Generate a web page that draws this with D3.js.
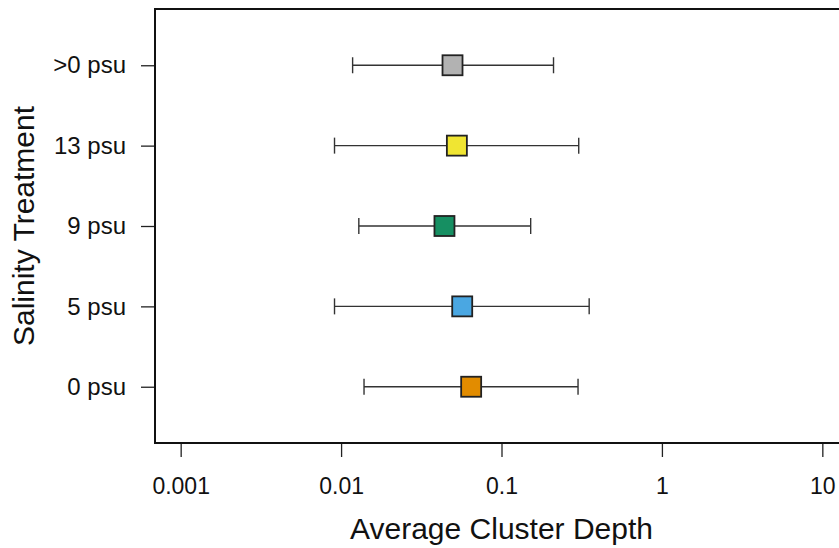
<!DOCTYPE html>
<html>
<head>
<meta charset="utf-8">
<script src="https://cdn.jsdelivr.net/npm/d3@7"></script>
<style>
  body { margin: 0; background: #fff; }
  svg { display: block; font-family: "Liberation Sans", Arial, sans-serif; }
</style>
</head>
<body>
<div id="chart"></div>
<script>
// salinity groups, bottom to top
var treatments = ["0 psu", "5 psu", "9 psu", "13 psu", ">0 psu"];
var meanDepth  = [0.0647, 0.0569, 0.0441, 0.0527, 0.0495];
var lowerDepth = [0.0139, 0.0091, 0.0129, 0.0091, 0.0118];
var upperDepth = [0.300, 0.352, 0.152, 0.303, 0.211];
var fills      = ["#e28c00", "#4aa7e2", "#168f62", "#f0e532", "#b2b2b2"];
var xTicks     = [0.001, 0.01, 0.1, 1, 10];
var xTickLabels = ["0.001", "0.01", "0.1", "1", "10"];

var width = 839, height = 548;
var box = { left: 155, right: 848, top: 9, bottom: 443 };

var svg = d3.select("#chart")
  .append("svg")
  .attr("width", width)
  .attr("height", height);

// log x with R-style 4% padding around 0.001..10
var x = d3.scaleLog()
  .domain([Math.pow(10, -3.16), Math.pow(10, 1.16)])
  .range([box.left, box.right]);

var y = d3.scaleLinear()
  .domain([0.3, 5.7])
  .range([box.bottom, box.top]);

var data = treatments.map(function (t, i) {
  return { name: t, pos: i + 1, mean: meanDepth[i], lo: lowerDepth[i], hi: upperDepth[i], fill: fills[i] };
});

// x axis
var xAxis = d3.axisBottom(x)
  .tickValues(xTicks)
  .tickFormat(function (d, i) { return xTickLabels[i]; })
  .tickSize(14)
  .tickPadding(21);

var gx = svg.append("g")
  .attr("transform", "translate(0," + box.bottom + ")")
  .call(xAxis);
gx.select(".domain").remove();
gx.selectAll(".tick line").attr("stroke", "#222").attr("stroke-width", 1.3);
gx.selectAll(".tick text")
  .attr("font-size", "23px")
  .attr("fill", "#111")
  .attr("font-family", "Liberation Sans, Arial, sans-serif");

// y axis
var yAxis = d3.axisLeft(y)
  .tickValues(data.map(function (d) { return d.pos; }))
  .tickFormat(function (d) { return treatments[d - 1]; })
  .tickSize(14)
  .tickPadding(15);

var gy = svg.append("g")
  .attr("transform", "translate(" + box.left + ",0)")
  .call(yAxis);
gy.select(".domain").remove();
gy.selectAll(".tick line").attr("stroke", "#222").attr("stroke-width", 1.3);
gy.selectAll(".tick text")
  .attr("font-size", "24px")
  .attr("fill", "#111")
  .attr("font-family", "Liberation Sans, Arial, sans-serif");

// frame
svg.append("rect")
  .attr("x", box.left)
  .attr("y", box.top)
  .attr("width", box.right - box.left)
  .attr("height", box.bottom - box.top)
  .attr("fill", "none")
  .attr("stroke", "#111")
  .attr("stroke-width", 2);

// error bars
var bars = svg.selectAll(".err")
  .data(data)
  .enter()
  .append("g")
  .attr("class", "err");

bars.append("line")
  .attr("x1", function (d) { return x(d.lo); })
  .attr("x2", function (d) { return x(d.hi); })
  .attr("y1", function (d) { return y(d.pos); })
  .attr("y2", function (d) { return y(d.pos); })
  .attr("stroke", "#333")
  .attr("stroke-width", 1.4);

bars.selectAll(".cap")
  .data(function (d) { return [{ v: d.lo, pos: d.pos }, { v: d.hi, pos: d.pos }]; })
  .enter()
  .append("line")
  .attr("class", "cap")
  .attr("x1", function (d) { return x(d.v); })
  .attr("x2", function (d) { return x(d.v); })
  .attr("y1", function (d) { return y(d.pos) - 8; })
  .attr("y2", function (d) { return y(d.pos) + 8; })
  .attr("stroke", "#333")
  .attr("stroke-width", 1.4);

// mean squares
svg.selectAll(".pt")
  .data(data)
  .enter()
  .append("rect")
  .attr("class", "pt")
  .attr("x", function (d) { return x(d.mean) - 10; })
  .attr("y", function (d) { return y(d.pos) - 10; })
  .attr("width", 20)
  .attr("height", 20)
  .attr("fill", function (d) { return d.fill; })
  .attr("stroke", "#222")
  .attr("stroke-width", 1.8);

// axis titles
svg.append("text")
  .attr("x", (x(0.001) + x(10)) / 2)
  .attr("y", 539)
  .attr("text-anchor", "middle")
  .attr("font-size", "30px")
  .attr("fill", "#111")
  .text("Average Cluster Depth");

svg.append("text")
  .attr("transform", "translate(34," + y(3) + ") rotate(-90)")
  .attr("text-anchor", "middle")
  .attr("font-size", "30px")
  .attr("fill", "#111")
  .text("Salinity Treatment");
</script>
</body>
</html>
